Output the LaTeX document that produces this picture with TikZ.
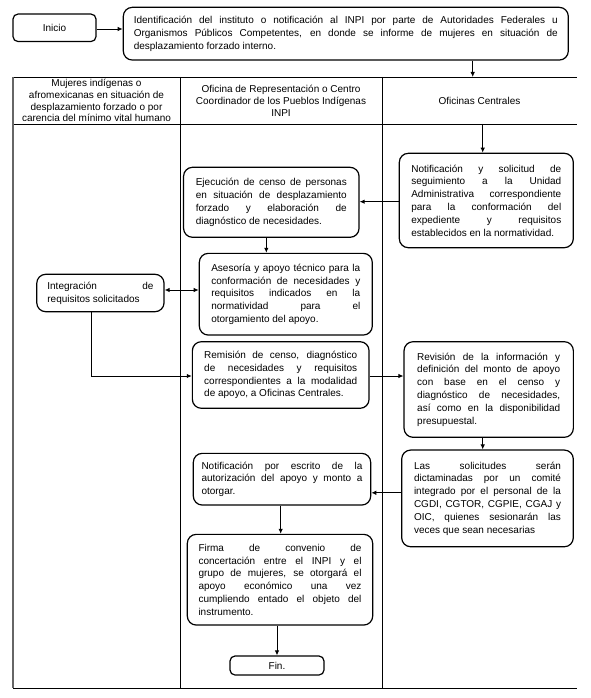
\documentclass[tikz,border=0pt]{standalone}
\usepackage{fontspec}
\setmainfont{Liberation Sans}
\usetikzlibrary{arrows.meta,calc,positioning}
\hyphenpenalty=10000
\tolerance=10000
\hbadness=10000
\tikzset{
  >={Latex[length=5pt,width=4.5pt]},
  line cap=round,
  line join=round,
  proc/.style={draw, rounded corners=9pt, line width=1.2pt, inner sep=0pt,
    align=justify, font=\fontsize{10}{12.8}\selectfont},
  endbox/.style={proc, rounded corners=5pt, align=center},
  lanehead/.style={align=center, font=\fontsize{10}{11.9}\selectfont},
  lane/.style={line width=0.9pt},
  arrow/.style={->, line width=0.9pt},
  boxsize/.style 2 args={minimum width=#1pt, minimum height=#2pt}
}
\begin{document}
\begin{tikzpicture}[x=1pt, y=-1pt]
  \useasboundingbox (0,0) rectangle (590,698);

  % swimlanes
  \draw[lane] (13,77) -- (577,77);
  \draw[lane] (13,124) -- (577,124);
  \draw[lane] (13,688) -- (577,688);
  \draw[lane, gray!80!black, line width=1.3pt] (13,77) -- (13,688);
  \draw[lane] (180,77) -- (180,688);
  \draw[lane] (382,77) -- (382,688);

  \node[lanehead] (mujeres) at (96.5,100.5) {Mujeres indígenas o\\afromexicanas en situación de\\desplazamiento forzado o por\\carencia del mínimo vital humano};
  \node[lanehead] (oficina) at (281,100.5) {Oficina de Representación o Centro\\Coordinador de los Pueblos Indígenas\\INPI};
  \node[lanehead] (centrales) at (479.5,100.5) {Oficinas Centrales};

  % steps
  \node[endbox, boxsize={83}{27.5}] (inicio) at (54.5,27.8) {Inicio};
  \node[proc, boxsize={445}{52.7}, text width=424pt] (ident) at (345.8,33.7)
    {Identificación del instituto o notificación al INPI por parte de Autoridades Federales u\linebreak
     Organismos Públicos Competentes, en donde se informe de mujeres en situación de\linebreak
     desplazamiento forzado interno.};
  \node[proc, boxsize={174}{94.4}, text width=150pt] (notif) at (486.3,200.5)
    {Notificación y solicitud de\linebreak seguimiento a la Unidad\linebreak
     Administrativa correspondiente\linebreak para la conformación del\linebreak
     expediente y requisitos\linebreak establecidos en la normatividad.};
  \node[proc, boxsize={175.5}{70}, text width=151pt] (censo) at (271.3,202.3)
    {Ejecución de censo de personas\linebreak en situación de desplazamiento\linebreak
     forzado y elaboración de\linebreak diagnóstico de necesidades.};
  \node[proc, boxsize={127.3}{37.4}, text width=106pt] (integ) at (100.4,293)
    {Integración de\linebreak requisitos solicitados};
  \node[proc, boxsize={173}{81.7}, text width=149pt] (asesoria) at (285.8,294.2)
    {Asesoría y apoyo técnico para la\linebreak conformación de necesidades y\linebreak
     requisitos indicados en la\linebreak normatividad para el\linebreak
     otorgamiento del apoyo.};
  \node[proc, boxsize={176.7}{66.6}, text width=153pt] (remision) at (280.7,375)
    {Remisión de censo, diagnóstico\linebreak de necesidades y requisitos\linebreak
     correspondientes a la modalidad\linebreak de apoyo, a Oficinas Centrales.};
  \node[proc, boxsize={169.3}{95.6}, text width=143pt] (revision) at (488.7,389.5)
    {Revisión de la información y\linebreak definición del monto de apoyo\linebreak
     con base en el censo y\linebreak diagnóstico de necesidades,\linebreak
     así como en la disponibilidad\linebreak presupuestal.};
  \node[proc, boxsize={171.6}{96.7}, text width=147pt] (dictamen) at (487.5,498.4)
    {Las solicitudes serán\linebreak dictaminadas por un comité\linebreak
     integrado por el personal de la\linebreak CGDI, CGTOR, CGPIE, CGAJ y\linebreak
     OIC, quienes sesionarán las\linebreak veces que sean necesarias};
  \node[proc, boxsize={177.4}{51.7}, text width=161pt] (autoriza) at (282,479.2)
    {Notificación por escrito de la\linebreak autorización del apoyo y monto a\linebreak otorgar.};
  \node[proc, boxsize={185.4}{90.7}, text width=163pt] (firma) at (280,579.7)
    {Firma de convenio de\linebreak concertación entre el INPI y el\linebreak
     grupo de mujeres, se otorgará el\linebreak apoyo económico una vez\linebreak
     cumpliendo entado el objeto del\linebreak instrumento.};
  \node[endbox, boxsize={94}{19}] (fin) at (277,665.5) {Fin.};

  \coordinate (toplane) at (472.7,77);
  \coordinate (hdrbot) at (482.7,124);

  % flow
  \draw[arrow] ([yshift=-1.2pt]inicio.east) -- ([yshift=-1.2pt]inicio.east -| ident.west);
  \draw[arrow] (toplane |- ident.south) -- (toplane);
  \draw[arrow] (hdrbot) -- (hdrbot |- notif.north);
  \draw[arrow] ([yshift=-1.2pt]notif.west) -- ([yshift=-1.2pt]notif.west -| censo.east);
  \draw[arrow] ([xshift=-5pt]censo.south) -- ([xshift=-5pt]censo.south |- asesoria.north);
  \draw[<->, line width=0.9pt] ([yshift=3pt]integ.east) -- ([yshift=3pt]integ.east -| asesoria.west);
  \draw[arrow] ([xshift=-8.6pt]integ.south) |- ([yshift=-1pt]remision.west);
  \draw[arrow] ([yshift=-1pt]remision.east) -- ([yshift=-1pt]remision.east -| revision.west);
  \draw[arrow] ([xshift=-6pt]revision.south) -- ([xshift=-6pt]revision.south |- dictamen.north);
  \draw[arrow] ([yshift=5.6pt]dictamen.west) -- ([yshift=5.6pt]dictamen.west -| autoriza.east);
  \draw[arrow] ([xshift=-1.3pt]autoriza.south) -- ([xshift=-1.3pt]autoriza.south |- firma.north);
  \draw[arrow] (fin.north |- firma.south) -- (fin.north);
\end{tikzpicture}
\end{document}
